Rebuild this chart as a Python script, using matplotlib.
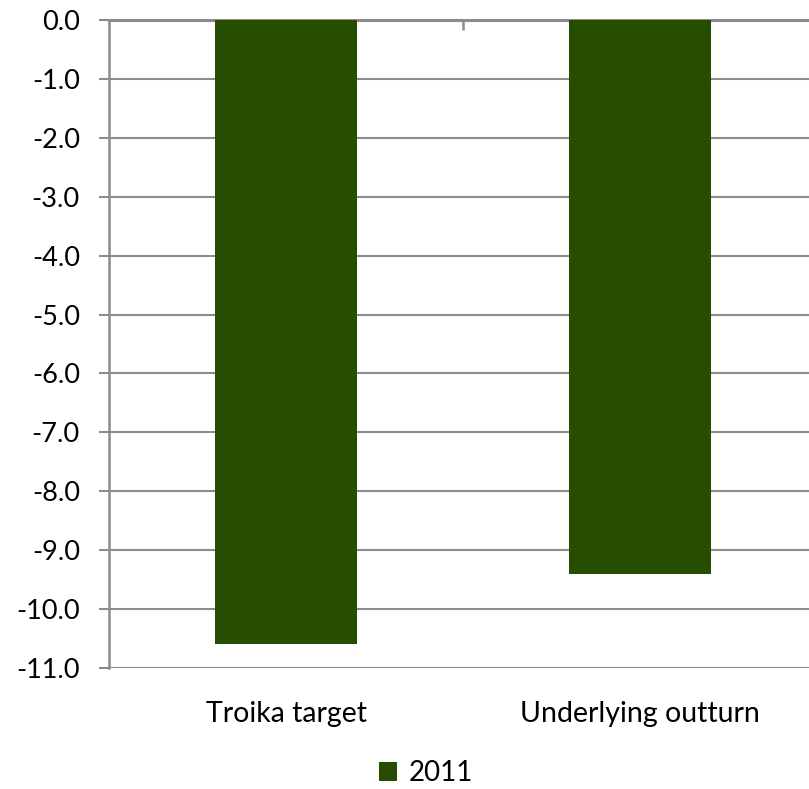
import matplotlib
matplotlib.use("Agg")
import matplotlib.pyplot as plt
import numpy as np

categories = ["Troika target", "Underlying outturn"]
values_2011 = [-10.6, -9.4]
series_name = "2011"
y_ticks = np.arange(0, -12, -1)

bar_color = "#264D00"
grid_color = "#8C8C8C"

plt.rcParams['font.family'] = ['Lato', 'DejaVu Sans']

fig = plt.figure(figsize=(8.09, 7.89), dpi=100)
# plot area runs past the right edge, as in the reference
ax = fig.add_axes([109 / 809, 1 - 668 / 789, 708 / 809, 648 / 789])

x = np.arange(len(categories))
ax.bar(x, values_2011, width=0.4, color=bar_color, label=series_name, zorder=3)

ax.set_xlim(-0.5, len(categories) - 0.5)
ax.set_ylim(-11, 0)
ax.set_yticks(y_ticks)
ax.set_yticklabels([f"{v:.1f}" for v in y_ticks])
ax.yaxis.grid(True, color=grid_color, linewidth=1.5, zorder=0)

ax.set_xticks(x)
ax.set_xticklabels(categories)
ax.tick_params(axis='x', length=0, pad=24, labelsize=20.5)
ax.tick_params(axis='y', length=7, width=1.5, color=grid_color, pad=14, labelsize=19.5)

for side in ["right", "bottom"]:
    ax.spines[side].set_visible(False)
ax.spines["left"].set_color(grid_color)
ax.spines["left"].set_linewidth(1.8)
ax.spines["top"].set_color(grid_color)
ax.spines["top"].set_linewidth(2.2)

# category boundary tick on the zero line
top = ax.secondary_xaxis('top')
top.set_xticks([0.5])
top.set_xticklabels([])
top.tick_params(direction='in', length=7, width=1.8, color=grid_color)
top.spines["top"].set_visible(False)

fig.legend(loc="center", bbox_to_anchor=(426 / 809, 1 - 773 / 789), frameon=False,
           fontsize=20, handlelength=0.65, handleheight=0.65, handletextpad=0.45)

fig.savefig("out.png", dpi=100)
